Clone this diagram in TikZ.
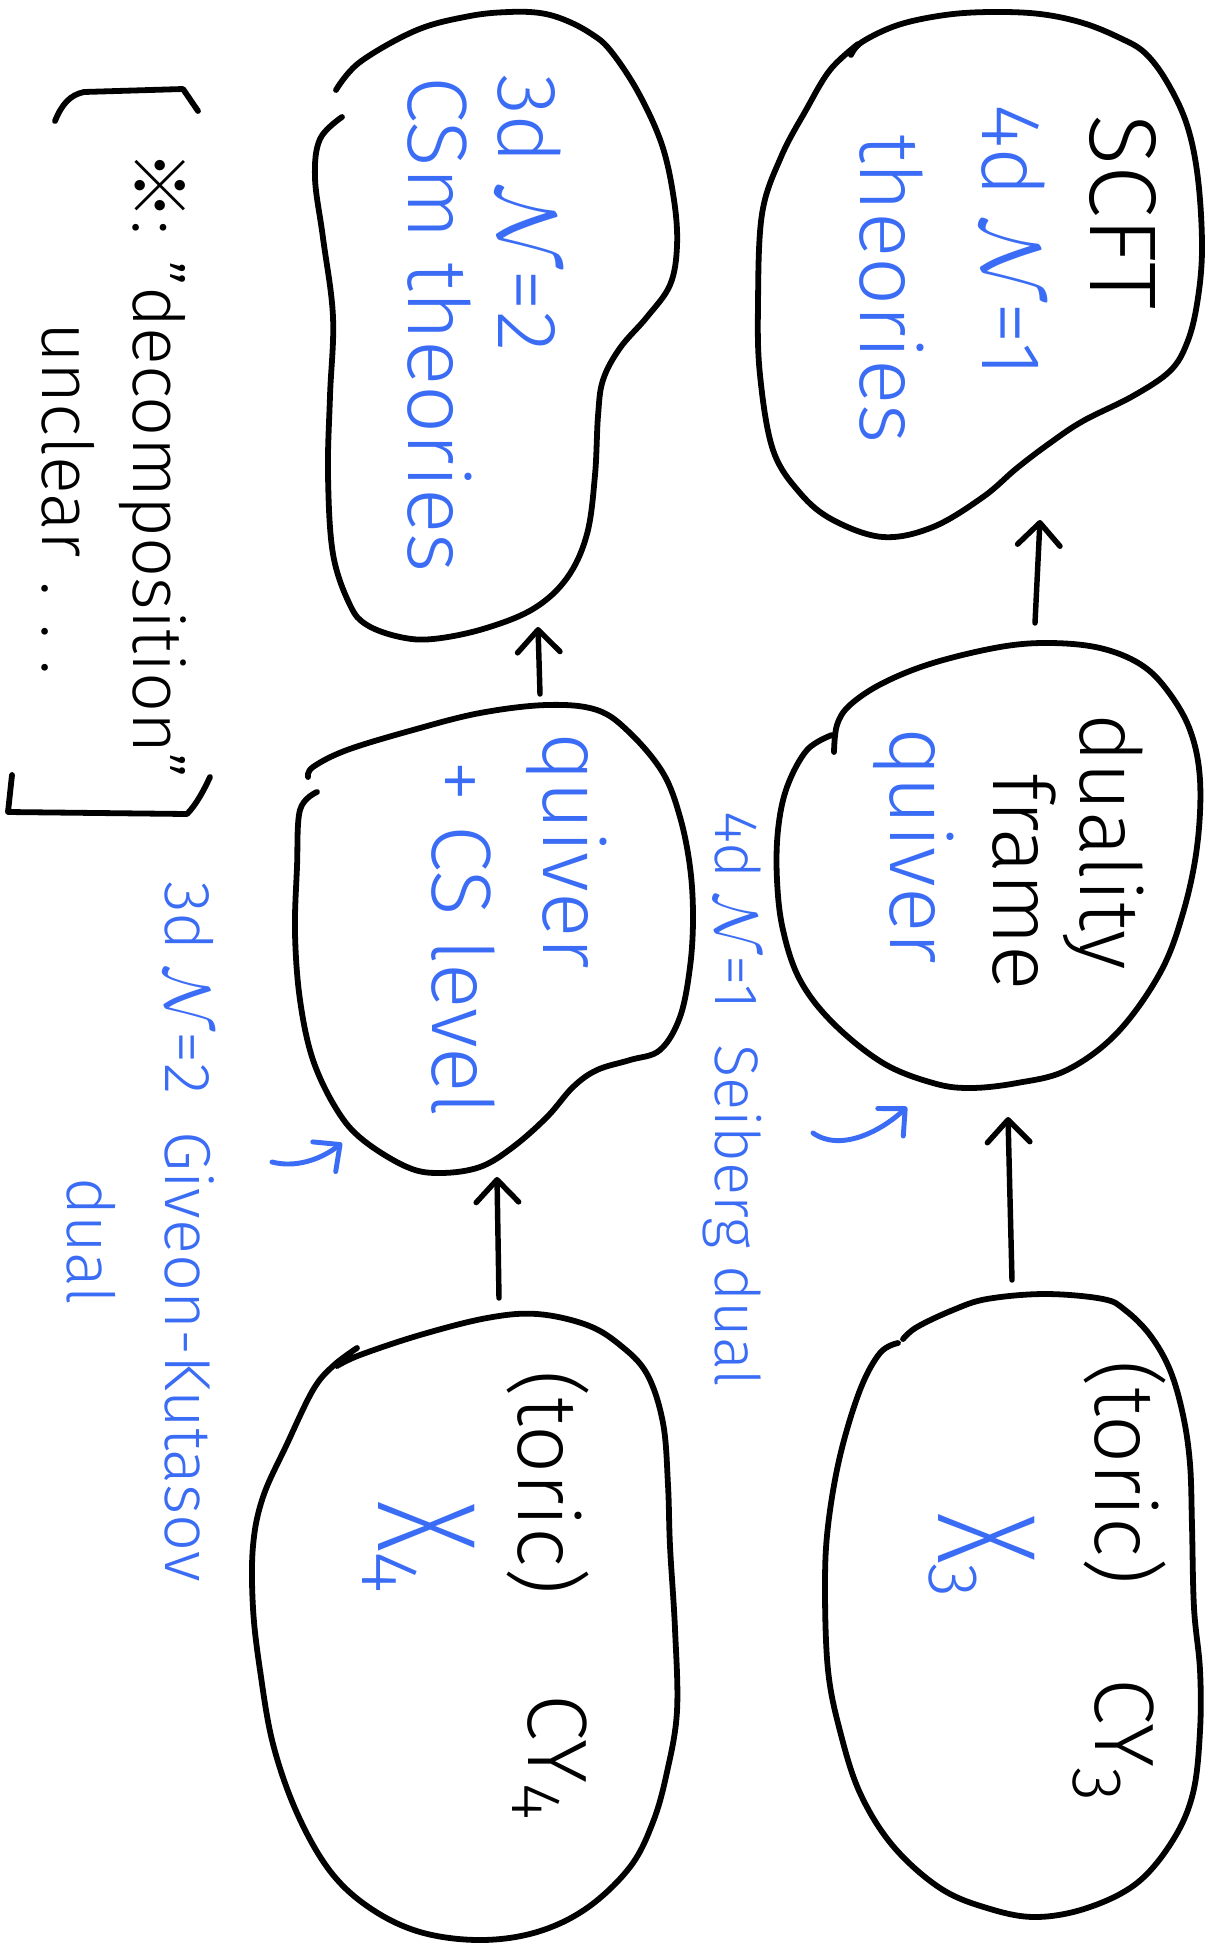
\RequirePackage{fix-cm}
\documentclass[tikz,border=0pt]{standalone}
\usepackage{fontspec}
\setmainfont{Fira Sans Light}
\newfontfamily\refmark{Noto Sans CJK JP}
\usepackage{graphicx}
\usetikzlibrary{arrows.meta}
\definecolor{penblue}{RGB}{58,108,246}
\newcommand\fsTitle{\fontsize{54}{60}\selectfont}
\newcommand\fsBody{\fontsize{48}{54}\selectfont}
\newcommand\fsNote{\fontsize{40}{46}\selectfont}
\newcommand\fsBigX{\fontsize{80}{88}\selectfont}
\newcommand\fsIdx{\fontsize{40}{44}\selectfont}

\begin{document}
\begin{tikzpicture}[x=0.02cm,y=-0.02cm,
  outline/.style={draw=black, line width=3.3pt, line cap=round, line join=round},
  mapsto/.style={draw=black, line width=3.1pt, line cap=round,
    -{Straight Barb[length=0.45cm,width=0.85cm,line width=3.1pt,round]}},
  hint/.style={draw=penblue, line width=2.8pt, line cap=round,
    -{Straight Barb[length=0.4cm,width=0.75cm,line width=2.8pt,round]}},
  lbl/.style={rotate=-90, anchor=base west, inner sep=0pt, outer sep=0pt},
  blacktxt/.style={lbl, text=black},
  bluetxt/.style={lbl, text=penblue},
]
\fill[white] (0,0) rectangle (1217,1944);
\useasboundingbox (0,0) rectangle (1217,1944);

% ---- SCFT blob
\draw[outline] plot[smooth, tension=0.6] coordinates {
 (851,55) (862,42) (898,25) (945,15) (991,12) (1040,14) (1083,23) (1120,38)
 (1145,53) (1167,82) (1187,125) (1198,179) (1202,250) (1197,304) (1187,343)
 (1170,371) (1133,396) (1083,421) (1050,443) (1017,468) (983,497) (933,527)
 (883,537) (833,520) (800,493) (773,450) (760,375) (758,304) (762,214)
 (781,157) (806,110) (830,70) (858,44)};

% ---- 3d CSm blob
\draw[outline] plot[smooth, tension=0.6] coordinates {
 (336,90) (360,62) (417,30) (470,16) (509,12) (540,13) (565,20) (590,33)
 (610,50) (638,92) (662,145) (674,200) (677,246) (670,285) (647,317)
 (620,348) (603,380) (598,416) (595,475) (587,534) (567,578) (533,609)
 (483,629) (433,639) (400,637) (367,625) (350,605) (333,554) (328,475)
 (330,396) (333,317) (323,238) (315,178) (320,139) (342,117)};

% ---- duality frame quiver blob
\draw[outline] plot[smooth, tension=0.6] coordinates {
 (834,752) (837,725) (850,705) (883,683) (933,663) (1000,647) (1050,643)
 (1100,648) (1140,664) (1167,690) (1190,730) (1200,780) (1197,847)
 (1183,913) (1160,973) (1117,1033) (1067,1070) (1017,1083) (970,1088)
 (933,1083) (883,1063) (833,1023) (800,980) (783,930) (777,880) (778,830)
 (787,787) (807,750) (832,735)};

% ---- quiver + CS level blob
\draw[outline] plot[smooth, tension=0.6] coordinates {
 (308,777) (313,767) (347,750) (413,730) (480,713) (547,705) (597,710)
 (630,733) (663,773) (680,817) (690,867) (693,917) (690,967) (680,1017)
 (660,1050) (630,1060) (597,1070) (573,1087) (547,1117) (513,1147)
 (480,1167) (440,1173) (407,1167) (363,1140) (337,1110) (313,1060)
 (300,1000) (295,933) (297,867) (300,810) (317,792)};

% ---- CY3 blob
\draw[outline] plot[smooth, tension=0.6] coordinates {
 (903,1339) (917,1327) (953,1310) (987,1299) (1045,1294) (1103,1299)
 (1125,1310) (1150,1335) (1170,1370) (1183,1415) (1190,1464) (1192,1526)
 (1194,1608) (1200,1670) (1200,1731) (1193,1793) (1173,1840) (1137,1883)
 (1087,1908) (1035,1917) (987,1908) (940,1888) (893,1846) (860,1793)
 (840,1731) (828,1670) (825,1587) (828,1526) (840,1456) (860,1390)
 (880,1353) (898,1343)};

% ---- CY4 blob
\draw[outline] plot[smooth, tension=0.6] coordinates {
 (337,1366) (360,1355) (420,1335) (487,1318) (537,1314) (587,1325)
 (620,1345) (647,1374) (663,1423) (668,1485) (670,1546) (675,1629)
 (677,1711) (667,1772) (653,1822) (630,1867) (587,1908) (537,1932)
 (480,1940) (420,1932) (370,1908) (330,1871) (297,1813) (273,1744)
 (260,1670) (253,1608) (253,1546) (263,1497) (287,1444) (313,1390)
 (333,1366) (357,1348)};

% ---- texts inside the blobs
\node[blacktxt, font=\fsTitle] (scft) at (1090,114) {SCFT};
\node[bluetxt, font=\fsBody] (fourd) at (982,104) {4d \(\mathcal{N}\)=1};
\node[bluetxt, font=\fsBody] (thA) at (860,134) {theories};

\node[blacktxt, font=\fsBody] (dualy) at (1080,713) {duality};
\node[blacktxt, font=\fsBody] (frame) at (993,773) {frame};
\node[bluetxt, font=\fsBody] (quivA) at (890,727) {quiver};

\node[bluetxt, font=\fsBody] (threed) at (498,74) {3d \(\mathcal{N}\)=2};
\node[bluetxt, font=\fsBody] (csm) at (408,76) {CSm theories};

\node[bluetxt, font=\fsBody] (quivB) at (543,732) {quiver};
\node[bluetxt, font=\fsBody] (cslev) at (432,760) {+ CS level};

\node[blacktxt, font=\fsBody] (toricA) at (1095,1360) {(toric)};
\node[blacktxt, font=\fsBody] (cyA) at (1095,1678) {CY\raisebox{-12pt}{\fsIdx 3}};
\node[bluetxt, font=\fsBigX] (xA) at (938,1513) {\scalebox{0.7}[1]{X}\raisebox{-5pt}{\fsIdx 3}};

\node[blacktxt, font=\fsBody] (toricB) at (518,1370) {(toric)};
\node[blacktxt, font=\fsBody] (cyB) at (528,1694) {CY\raisebox{-9pt}{\fsIdx 4}};
\node[bluetxt, font=\fsBigX] (xB) at (378,1501) {\scalebox{0.7}[1]{X}\raisebox{-9pt}{\fontsize{46}{50}\selectfont 4}};

% ---- duality labels
\node[bluetxt, font=\fontsize{35}{40}\selectfont] (seib) at (715,811) {4d \(\mathcal{N}\)=1 \ Seiberg dual};
\node[bluetxt, font=\fontsize{37}{42}\selectfont] (gk) at (165,881) {3d \(\mathcal{N}\)=2 \ Giveon-Kutasov};
\node[bluetxt, font=\fontsize{37}{42}\selectfont] (gkd) at (67,1177) {dual};

% ---- bracketed remark
\draw[outline] (55,121) .. controls (62,104) and (70,95) .. (84,92) -- (183,89) -- (198,111);
\draw[outline] (12,775) -- (8,812) -- (187,814) .. controls (196,805) and (204,790) .. (210,777);
\node[blacktxt, font=\fsNote] (note) at (133,150) {{\refmark ※}: "decomposition"};
\node[blacktxt, font=\fsNote] (unc) at (42,322) {unclear\hspace{0.35em}.\hspace{0.4em}.\hspace{0.3em}.};

% ---- maps between the blobs
\coordinate (cythreetop) at (1012,1280);
\coordinate (dfbot) at (1008,1117);
\coordinate (dftop) at (1035,623);
\coordinate (scftbot) at (1040,520);
\coordinate (cyfourtop) at (499,1298);
\coordinate (cslbot) at (497,1177);
\coordinate (csltop) at (540,694);
\coordinate (csmbot) at (538,627);
\draw[mapsto] (cythreetop) -- (dfbot);
\draw[mapsto] (dftop) -- (scftbot);
\draw[mapsto] (cyfourtop) -- (cslbot);
\draw[mapsto] (csltop) -- (csmbot);

% ---- small blue pointers
\coordinate (seibtail) at (813,1133);
\coordinate (seibhead) at (907,1107);
\draw[hint] (seibtail) .. controls (840,1152) and (880,1132) .. (seibhead);
\coordinate (gktail) at (272,1162);
\coordinate (gkhead) at (342,1143);
\draw[hint] (gktail) .. controls (295,1168) and (320,1160) .. (gkhead);
\end{tikzpicture}
\end{document}
